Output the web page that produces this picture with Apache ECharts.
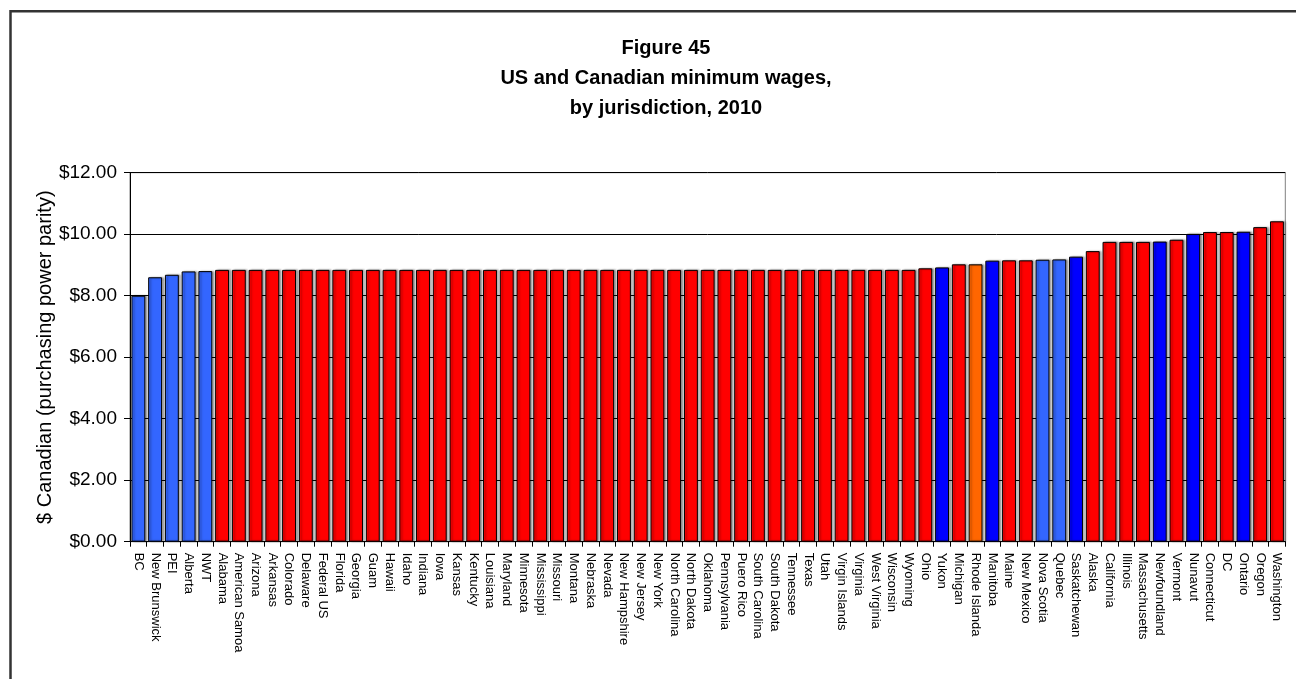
<!DOCTYPE html>
<html>
<head>
<meta charset="utf-8">
<script src="https://cdn.jsdelivr.net/npm/echarts@6/dist/echarts.min.js"></script>
<style>
html,body{margin:0;padding:0;background:#fff;}
#chart{width:1296px;height:679px;}
</style>
</head>
<body>
<div id="chart"></div>
<script>
// ---- Data ----
const titleLines = ['Figure 45', 'US and Canadian minimum wages,', 'by jurisdiction, 2010'];
const yAxisTitle = '$ Canadian (purchasing power parity)';
const yTicks = [0, 2, 4, 6, 8, 10, 12];

const categories = [
  'BC','New Brunswick','PEI','Alberta','NWT','Alabama','American Samoa','Arizona','Arkansas','Colorado',
  'Delaware','Federal US','Florida','Georgia','Guam','Hawaii','Idaho','Indiana','Iowa','Kansas',
  'Kentucky','Louisiana','Maryland','Minnesota','Mississippi','Missouri','Montana','Nebraska','Nevada','New Hampshire',
  'New Jersey','New York','North Carolina','North Dakota','Oklahoma','Pennsylvania','Puero Rico','South Carolina','South Dakota','Tennessee',
  'Texas','Utah','Virgin Islands','Virginia','West Virginia','Wisconsin','Wyoming','Ohio','Yukon','Michigan',
  'Rhode Islanda','Manitoba','Maine','New Mexico','Nova Scotia','Quebec','Saskatchewan','Alaska','California','Illinois',
  'Massachusetts','Newfoundland','Vermont','Nunavut','Connecticut','DC','Ontario','Oregon','Washington'
];

const wages = [
  8.00, 8.60, 8.68, 8.79, 8.80, 8.84, 8.84, 8.84, 8.84, 8.84,
  8.84, 8.84, 8.84, 8.84, 8.84, 8.84, 8.84, 8.84, 8.84, 8.84,
  8.84, 8.84, 8.84, 8.84, 8.84, 8.84, 8.84, 8.84, 8.84, 8.84,
  8.84, 8.84, 8.84, 8.84, 8.84, 8.84, 8.84, 8.84, 8.84, 8.84,
  8.84, 8.84, 8.84, 8.84, 8.84, 8.84, 8.84, 8.89, 8.92, 9.02,
  9.02, 9.14, 9.15, 9.15, 9.17, 9.18, 9.27, 9.45, 9.75, 9.75,
  9.75, 9.76, 9.82, 10.01, 10.07, 10.07, 10.08, 10.23, 10.42
];

// group of each jurisdiction: 'CA1' Canada (light blue), 'CA2' Canada (blue), 'US' US, 'RI' Rhode Island
const groups = [
  'CA1','CA1','CA1','CA1','CA1','US','US','US','US','US',
  'US','US','US','US','US','US','US','US','US','US',
  'US','US','US','US','US','US','US','US','US','US',
  'US','US','US','US','US','US','US','US','US','US',
  'US','US','US','US','US','US','US','US','CA2','US',
  'RI','CA2','US','US','CA1','CA1','CA2','US','US','US',
  'US','CA2','US','CA2','US','US','CA2','US','US'
];

// ---- Styles ----
const groupColors = { CA1: '#3366FF', CA2: '#0000FF', US: '#FF0000', RI: '#FF6600' };
const FONT = '"Liberation Sans", Arial, sans-serif';

const chart = echarts.init(document.getElementById('chart'), null, { renderer: 'canvas' });

const option = {
  backgroundColor: '#ffffff',
  animation: false,
  textStyle: { fontFamily: FONT },
  title: {
    text: titleLines.join('\n'),
    left: 661,
    top: 28,
    textAlign: 'center',
    textStyle: { fontFamily: FONT, fontSize: 20, fontWeight: 'bold', color: '#000', lineHeight: 30 }
  },
  graphic: [{
    type: 'rect',
    shape: { x: 10.5, y: 11.3, width: 1320, height: 720 },
    style: { fill: null, stroke: '#333', lineWidth: 2.5 },
    silent: true,
    z: 100
  }],
  grid: {
    left: 130, right: 10.7, top: 172.7, bottom: 137.3,
    show: true, borderColor: '#808080', borderWidth: 1, backgroundColor: '#fff'
  },
  xAxis: {
    type: 'category',
    data: categories,
    boundaryGap: true,
    axisLine: { show: true, lineStyle: { color: '#000', width: 1 } },
    axisTick: { show: true, alignWithLabel: false, interval: 0, length: 5, lineStyle: { color: '#000' } },
    axisLabel: {
      interval: 0, rotate: -90, fontSize: 13, color: '#000', fontFamily: FONT, margin: 11
    },
    splitLine: { show: false }
  },
  yAxis: {
    type: 'value',
    min: yTicks[0],
    max: yTicks[yTicks.length - 1],
    interval: yTicks[1] - yTicks[0],
    name: yAxisTitle,
    nameLocation: 'middle',
    nameGap: 75,
    nameMoveOverlap: false,
    nameTextStyle: { fontFamily: FONT, fontSize: 20, color: '#000' },
    axisLine: { show: true, lineStyle: { color: '#000', width: 1 } },
    axisTick: { show: true, inside: false, length: 6, lineStyle: { color: '#000' } },
    axisLabel: {
      fontSize: 19, color: '#000', fontFamily: FONT, margin: 13,
      formatter: v => '$' + v.toFixed(2)
    },
    splitLine: { show: true, lineStyle: { color: '#000', width: 1 } }
  },
  series: [{
    type: 'bar',
    data: wages.map((v, i) => ({ value: v, itemStyle: { color: groupColors[groups[i]] } })),
    barCategoryGap: '17%',
    itemStyle: {
      borderColor: '#000',
      borderWidth: 1,
      shadowColor: 'rgba(0,0,0,0.35)',
      shadowBlur: 2,
      shadowOffsetX: 2,
      shadowOffsetY: 0
    },
    label: { show: false }
  }]
};

chart.setOption(option);
</script>
</body>
</html>
